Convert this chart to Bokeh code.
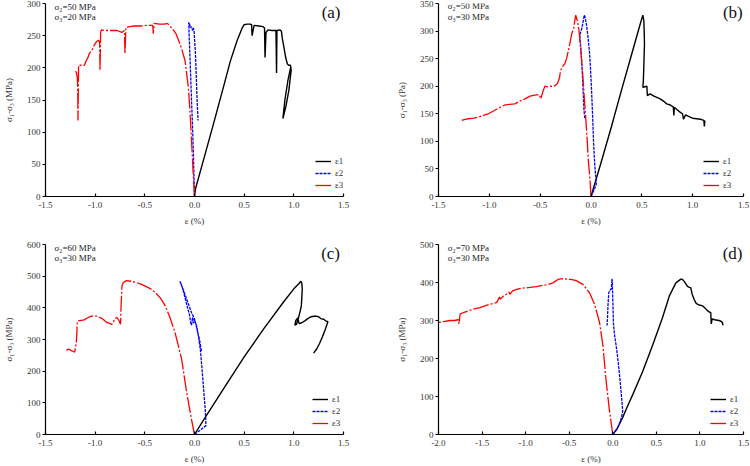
from bokeh.plotting import figure
from bokeh.models import Legend, LegendItem, Label, FixedTicker, PrintfTickFormatter, Range1d
from bokeh.layouts import gridplot
from bokeh.embed import file_html
from bokeh.resources import INLINE

SERIF = "Liberation Serif"

# ---------------- (a) sigma2 = 50 MPa, sigma3 = 20 MPa ----------------
a_e1_x = [0, 0.01, 0.1, 0.2, 0.3, 0.36, 0.43, 0.48, 0.5, 0.53, 0.56, 0.575, 0.58, 0.6, 0.65, 0.69,
          0.705, 0.71, 0.72, 0.74, 0.78, 0.82, 0.826, 0.83, 0.86, 0.875, 0.885, 0.9, 0.918, 0.935,
          0.95, 0.967, 0.973, 0.95, 0.92, 0.89, 0.91, 0.94, 0.967]
a_e1_y = [0, 12, 62, 118, 175, 210, 243, 262, 267, 268, 268, 267, 250, 266, 265, 264,
          262, 216, 255, 259, 258, 258, 192, 258, 259, 257, 245, 232, 216, 206,
          204, 204, 196, 165, 140, 121, 150, 180, 200]
a_e2_x = [0, -0.01, -0.02, -0.03, -0.045, -0.055, -0.058, -0.05, -0.04, -0.03, -0.02, -0.012,
          -0.004, 0.0, 0.01, 0.02, 0.029, 0.033, 0.036]
a_e2_y = [0, 60, 110, 149, 215, 255, 271, 268, 262, 264, 258, 262,
          258, 245, 222, 176, 139, 128, 118]
a_e3_x = [0, -0.013, -0.03, -0.046, -0.062, -0.095, -0.13, -0.16, -0.19, -0.225, -0.25, -0.275,
          -0.3, -0.35, -0.405, -0.415, -0.42, -0.47, -0.55, -0.62, -0.69, -0.70, -0.705, -0.732,
          -0.78, -0.85, -0.9, -0.938, -0.945, -0.951, -0.955, -0.967, -0.99, -1.01, -1.03, -1.06,
          -1.075, -1.09, -1.108, -1.14, -1.167, -1.17, -1.173, -1.176, -1.18, -1.19, -1.206]
a_e3_y = [0, 35, 87, 134, 170, 211, 230, 243, 254, 261, 266, 269,
          268, 268, 269, 253, 266, 266, 265, 265, 263, 222, 258, 255,
          258, 258, 258, 259, 255, 196, 240, 243, 240, 235, 228, 222,
          215, 211, 204, 204, 204, 160, 118, 170, 185, 193, 196]

# ---------------- (b) sigma2 = 50 MPa, sigma3 = 30 MPa ----------------
b_e1_x = [0, 0.1, 0.2, 0.3, 0.4, 0.48, 0.51, 0.52, 0.523, 0.526, 0.52, 0.515, 0.51, 0.53, 0.55,
          0.552, 0.555, 0.58, 0.62, 0.68, 0.72, 0.745, 0.78, 0.81, 0.815, 0.82, 0.85, 0.876, 0.9,
          0.91, 0.93, 0.975, 1.0, 1.04, 1.08, 1.11, 1.115, 1.12]
b_e1_y = [0, 62, 126, 193, 258, 310, 329, 318, 301, 277, 240, 210, 198, 199, 200,
          190, 183, 186, 182, 177, 172, 168, 166, 162, 147, 162, 157, 153, 150,
          140, 148, 144, 142, 141, 140, 138, 127, 138]
b_e2_x = [0, 0.02, 0.04, 0.052, 0.048, 0.042, 0.036, 0.026, 0.015, 0.005, -0.005, -0.015, -0.03,
          -0.045, -0.058, -0.066, -0.075, -0.09, -0.105, -0.11, -0.1, -0.09, -0.082, -0.075,
          -0.07, -0.065, -0.06]
b_e2_y = [0, 8, 16, 23, 35, 45, 60, 95, 150, 195, 232, 262, 290,
          312, 325, 329, 320, 305, 296, 290, 270, 240, 210, 180,
          160, 148, 140]
b_e3_x = [0, -0.01, -0.026, -0.04, -0.059, -0.068, -0.075, -0.085, -0.098, -0.11, -0.118, -0.13,
          -0.15, -0.16, -0.17, -0.19, -0.205, -0.222, -0.24, -0.26, -0.275, -0.3, -0.31, -0.33,
          -0.356, -0.38, -0.43, -0.454, -0.47, -0.494, -0.51, -0.552, -0.6, -0.65, -0.7, -0.75,
          -0.8, -0.847, -0.88, -0.912, -0.96, -1.01, -1.06, -1.108, -1.15, -1.206, -1.24, -1.27]
b_e3_y = [0, 30, 65, 110, 162, 185, 205, 230, 259, 285, 301, 315,
          329, 318, 305, 295, 280, 265, 250, 240, 237, 228, 215, 205,
          201, 200, 199, 200, 192, 177, 185, 184, 182, 177, 173, 168,
          167, 166, 163, 160, 155, 150, 147, 144, 142, 141, 140, 138]

# ---------------- (c) sigma2 = 60 MPa, sigma3 = 30 MPa ----------------
c_e1_x = [0, 0.1, 0.3, 0.5, 0.7, 0.9, 1.0, 1.05, 1.07, 1.08, 1.085, 1.08, 1.075, 1.06, 1.043,
          1.027, 1.01, 1.02, 1.04, 1.053, 1.08, 1.11, 1.14, 1.174, 1.22, 1.25, 1.27, 1.3, 1.32,
          1.343, 1.32, 1.29, 1.26, 1.23, 1.206, 1.2]
c_e1_y = [0, 50, 148, 245, 335, 420, 460, 476, 484, 478, 460, 430, 405, 385, 364,
          348, 345, 360, 368, 350, 353, 359, 366, 372, 374, 372, 366, 364, 359,
          356, 335, 310, 288, 270, 260, 257]
c_e2_x = [0, 0.05, 0.09, 0.115, 0.113, 0.108, 0.1, 0.09, 0.075, 0.06, 0.04, 0.02, 0.0, -0.03,
          -0.07, -0.11, -0.147, -0.13, -0.11, -0.09, -0.07, -0.05, -0.04, -0.03, -0.02, -0.01,
          0.0, 0.01, 0.02, 0.035, 0.05, 0.07]
c_e2_y = [0, 12, 22, 28, 50, 80, 110, 150, 210, 265, 310, 340, 365, 385,
          420, 455, 484, 472, 450, 425, 400, 378, 355, 345, 370, 352,
          365, 350, 345, 320, 300, 262]
c_e3_x = [0, -0.033, -0.08, -0.13, -0.196, -0.25, -0.293, -0.34, -0.39, -0.44, -0.49, -0.54,
          -0.587, -0.64, -0.685, -0.717, -0.73, -0.734, -0.74, -0.743, -0.745, -0.76, -0.78, -0.8,
          -0.83, -0.86, -0.88, -0.93, -0.98, -1.04, -1.08, -1.11, -1.17, -1.18, -1.183, -1.19,
          -1.206, -1.22, -1.24, -1.27, -1.29]
c_e3_y = [0, 52, 135, 239, 322, 372, 405, 430, 447, 460, 468, 475,
          480, 484, 486, 480, 470, 440, 400, 360, 348, 360, 369, 366,
          348, 352, 353, 366, 374, 374, 368, 362, 359, 356, 330, 290,
          260, 262, 265, 270, 265]

# ---------------- (d) sigma2 = 70 MPa, sigma3 = 30 MPa ----------------
d_e1_x = [0, 0.05, 0.114, 0.17, 0.229, 0.343, 0.457, 0.571, 0.648, 0.724, 0.781, 0.8, 0.819,
          0.84, 0.857, 0.875, 0.895, 0.91, 0.933, 0.952, 0.97, 1.0, 1.029, 1.06, 1.086, 1.11,
          1.124, 1.13, 1.14, 1.17, 1.219, 1.24, 1.257, 1.265]
d_e1_y = [0, 15, 45, 75, 105, 166, 235, 308, 364, 399, 409, 408, 403,
          396, 390, 388, 386, 370, 356, 347, 343, 340, 339, 332, 326, 322,
          321, 291, 304, 302, 300, 298, 295, 287]
d_e2_x = [0, 0.04, 0.076, 0.1, 0.114, 0.095, 0.076, 0.055, 0.038, 0.02, 0.008, 0.0, -0.005,
          -0.008, -0.013, -0.019, -0.03, -0.046, -0.055, -0.06, -0.065]
d_e2_y = [0, 12, 28, 45, 62, 114, 160, 205, 235, 262, 290, 356, 395,
          410, 395, 382, 380, 373, 340, 310, 287]
d_e3_x = [0, -0.038, -0.076, -0.114, -0.152, -0.21, -0.267, -0.343, -0.419, -0.48, -0.533,
          -0.58, -0.629, -0.686, -0.75, -0.8, -0.876, -0.95, -0.99, -1.05, -1.105, -1.15, -1.181,
          -1.19, -1.2, -1.257, -1.295, -1.3, -1.333, -1.41, -1.45, -1.524, -1.6, -1.714, -1.752,
          -1.76, -1.765, -1.771, -1.82, -1.867, -1.943, -2.0]
d_e3_y = [0, 62, 140, 235, 295, 343, 373, 395, 405, 408, 409,
          410, 408, 399, 394, 393, 389, 387, 386, 385, 382, 378, 369,
          375, 372, 364, 356, 362, 347, 343, 340, 334, 330, 321, 317,
          300, 291, 302, 300, 300, 297, 295]

series_labels = ["ε1", "ε2", "ε3"]
x_ticks_std = [-1.5, -1.0, -0.5, 0.0, 0.5, 1.0, 1.5]
x_ticks_wide = [-2.0, -1.5, -1.0, -0.5, 0.0, 0.5, 1.0, 1.5]


def make_panel(curves, xr, xticks, yr, ystep, ylabel, cond, cond_xy, tag, tag_xy,
               borders, legend_xy):
    left, right, top, bottom = borders
    p = figure(width=375, height=233, output_backend="svg", toolbar_location=None,
               x_range=Range1d(*xr), y_range=Range1d(*yr),
               min_border_left=left, min_border_right=right,
               min_border_top=top, min_border_bottom=bottom)
    p.outline_line_color = None
    p.grid.visible = False
    p.background_fill_color = "white"

    for ax in (p.xaxis[0], p.yaxis[0]):
        ax.axis_line_color = "black"
        ax.axis_line_width = 1.2
        ax.major_tick_line_color = "black"
        ax.major_tick_line_width = 1.2
        ax.minor_tick_line_color = None
        ax.major_label_text_font = SERIF
        ax.major_label_text_font_size = "9px"
        ax.major_label_text_color = "#333333"
        ax.axis_label_text_font = SERIF
        ax.axis_label_text_font_size = "9px"
        ax.axis_label_text_font_style = "normal"
        ax.axis_label_text_color = "#333333"

    p.xaxis.ticker = FixedTicker(ticks=xticks)
    p.xaxis.formatter = PrintfTickFormatter(format="%.1f")
    p.xaxis.major_tick_in = 3
    p.xaxis.major_tick_out = 0
    p.xaxis.major_label_standoff = 5
    p.xaxis.axis_label = "ε (%)"
    p.xaxis.axis_label_standoff = 5

    p.yaxis.ticker = FixedTicker(ticks=list(range(0, int(yr[1]) + 1, ystep)))
    p.yaxis.major_tick_in = 0
    p.yaxis.major_tick_out = 3
    p.yaxis.major_label_standoff = 2
    p.yaxis.axis_label = ylabel
    p.yaxis.axis_label_standoff = 10

    (x1, y1), (x2, y2), (x3, y3) = curves
    r1 = p.line(x1, y1, line_color="black", line_width=1.4)
    r2 = p.line(x2, y2, line_color="#0000ff", line_width=1.3, line_dash="3 1")
    r3 = p.line(x3, y3, line_color="#ff0000", line_width=1.3, line_dash="16 2 2 2")

    legend = Legend(items=[LegendItem(label=series_labels[0], renderers=[r1]),
                           LegendItem(label=series_labels[1], renderers=[r2]),
                           LegendItem(label=series_labels[2], renderers=[r3])],
                    location=legend_xy, orientation="vertical",
                    glyph_width=16, glyph_height=10, label_height=10,
                    label_standoff=4, spacing=2, padding=0, margin=0,
                    label_text_font=SERIF, label_text_font_size="9px",
                    label_text_color="#333333",
                    border_line_alpha=0, background_fill_alpha=0)
    p.add_layout(legend)

    for text, (tx, ty) in zip(cond, cond_xy):
        p.add_layout(Label(x=tx, y=ty, text=text, text_font=SERIF, text_font_size="9px",
                           text_baseline="middle", text_align="left", text_color="#222222"))
    p.add_layout(Label(x=tag_xy[0], y=tag_xy[1], text=tag, text_font=SERIF,
                       text_font_size="17px", text_baseline="middle", text_align="center",
                       text_color="#111111"))
    return p


pa = make_panel([(a_e1_x, a_e1_y), (a_e2_x, a_e2_y), (a_e3_x, a_e3_y)],
                (-1.5, 1.5), x_ticks_std, (0, 300), 50, "σ₁-σ₃ (MPa)",
                ["σ₂=50 MPa", "σ₃=20 MPa"], [(-1.41, 295), (-1.41, 279)],
                "(a)", (1.375, 286), (37, 32, 3, 37), (270, 6))
pb = make_panel([(b_e1_x, b_e1_y), (b_e2_x, b_e2_y), (b_e3_x, b_e3_y)],
                (-1.5, 1.5), x_ticks_std, (0, 350), 50, "σ₁-σ₃ (Pa)",
                ["σ₂=50 MPa", "σ₃=30 MPa"], [(-1.41, 345), (-1.41, 325.6)],
                "(b)", (1.395, 334), (63, 7, 3, 37), (265, 6))
pc = make_panel([(c_e1_x, c_e1_y), (c_e2_x, c_e2_y), (c_e3_x, c_e3_y)],
                (-1.5, 1.5), x_ticks_std, (0, 600), 100, "σ₁-σ₃ (MPa)",
                ["σ₂=60 MPa", "σ₃=30 MPa"], [(-1.41, 587.5), (-1.41, 556)],
                "(c)", (1.37, 572), (37, 32, 11, 30), (267, 6))
pd = make_panel([(d_e1_x, d_e1_y), (d_e2_x, d_e2_y), (d_e3_x, d_e3_y)],
                (-2.0, 1.5), x_ticks_wide, (0, 500), 100, "σ₁-σ₃ (MPa)",
                ["σ₂=70 MPa", "σ₃=30 MPa"], [(-1.894, 489.6), (-1.894, 463.7)],
                "(d)", (1.375, 477), (62, 7, 11, 29), (272, 6))

grid = gridplot([[pa, pb], [pc, pd]], toolbar_location=None)

open("out.html", "w").write(file_html(grid, INLINE))
